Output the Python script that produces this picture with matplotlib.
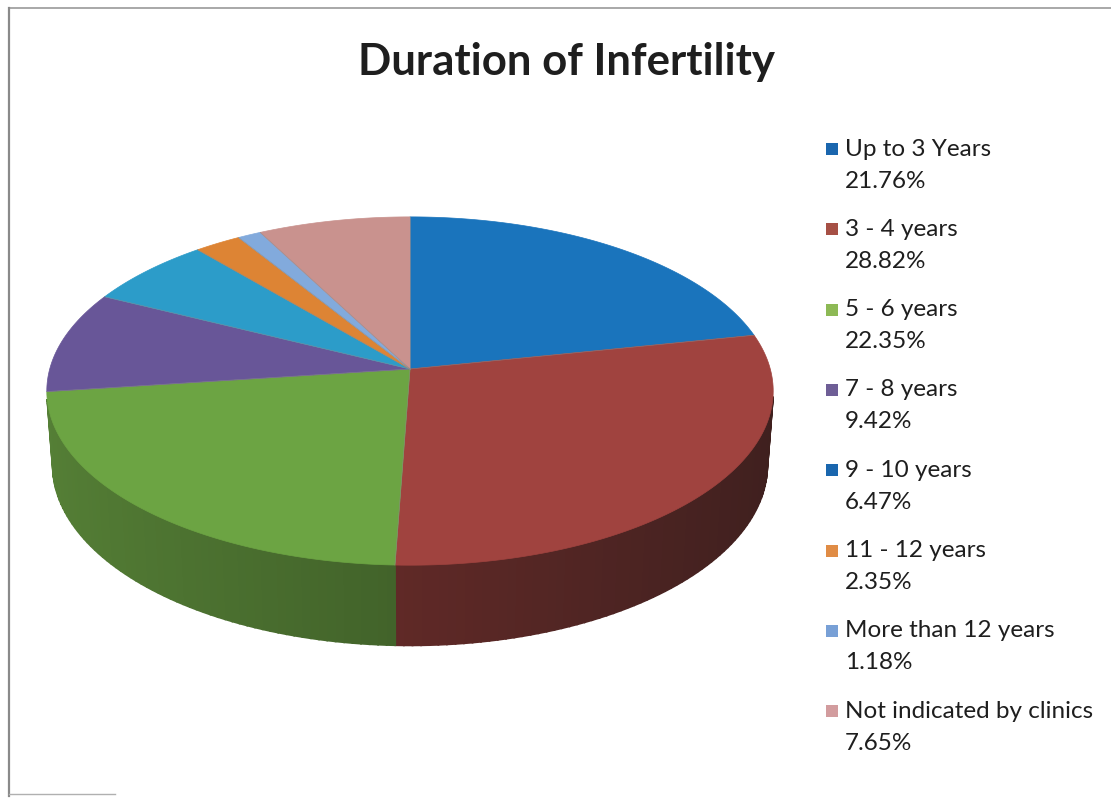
import numpy as np
import matplotlib.pyplot as plt
from matplotlib.patches import Polygon, Rectangle
from matplotlib.colors import to_rgb

plt.rcParams['font.family'] = ['Lato', 'DejaVu Sans']

labels = ['Up to 3 Years', '3 - 4 years', '5 - 6 years', '7 - 8 years',
          '9 - 10 years', '11 - 12 years', 'More than 12 years',
          'Not indicated by clinics']
values = [21.76, 28.82, 22.35, 9.42, 6.47, 2.35, 1.18, 7.65]
colors = ['#1A74BC', '#A0433F', '#6CA443', '#685698', '#2C9CC9',
          '#DD8434', '#82AADC', '#C9928E']
legend_colors = ['#1A66AE', '#A65045', '#8DB955', '#6E5E96', '#1A66AE',
                 '#E08C45', '#78A0D6', '#D29C9E']

# perspective camera for a flat cylinder (pixel units)
cx, cy = 410, 369
F, d, elev, h = 2504, 6.95, np.radians(28.4), 0.235
se, ce = np.sin(elev), np.cos(elev)


def proj(x, y, z):
    depth = d + y * ce - z * se
    return cx + F * x / depth, cy - F * (y * se + z * ce) / depth


def shade(c, f, mix):
    r, g, b = to_rgb(c)
    lum = 0.3 * r + 0.59 * g + 0.11 * b
    return tuple(min(1, f * ((1 - mix) * v + mix * lum)) for v in (r, g, b))


fig = plt.figure(figsize=(11.11, 7.99), dpi=100)
ax = fig.add_axes([0, 0, 1, 1])
ax.set_xlim(0, 1111)
ax.set_ylim(799, 0)
ax.axis('off')

# frame
ax.plot([9, 1111], [8, 8], color='#9a9a9a', lw=1.2)
ax.plot([9, 9], [8, 796], color='#8a8a8a', lw=1.6)
ax.plot([9, 115], [794, 794], color='#b0b0b0', lw=1)

fracs = np.array(values) / sum(values)
bounds = np.concatenate([[0], np.cumsum(fracs)]) * 2 * np.pi  # clockwise from back

# outer side wall (front half only)
for i in range(len(values)):
    th = np.linspace(bounds[i], bounds[i + 1], max(4, int(300 * fracs[i])))
    for a0, a1 in zip(th[:-1], th[1:]):
        am = (a0 + a1) / 2
        nx, ny = np.sin(am), np.cos(am)
        if ny > -0.163:
            continue
        f = 0.6 - 0.17 * max(0, nx) + 0.18 * max(0, -nx)
        col = shade(colors[i], f, 0.2 * max(0, nx) + 0.03)
        pts = []
        for a in (a0, a1):
            pts.append(proj(np.sin(a), np.cos(a), 0))
        for a in (a1, a0):
            pts.append(proj(np.sin(a), np.cos(a), -h))
        ax.add_patch(Polygon(pts, closed=True, facecolor=col,
                             edgecolor=col, lw=1.3))

# top faces
for i in range(len(values)):
    th = np.linspace(bounds[i], bounds[i + 1], max(8, int(400 * fracs[i])))
    pts = [proj(0, 0, 0)] + [proj(np.sin(a), np.cos(a), 0) for a in th]
    ax.add_patch(Polygon(pts, closed=True, facecolor=colors[i],
                         edgecolor=colors[i], lw=0.5))
for a in bounds[:-1]:
    p0 = proj(0, 0, 0)
    p1 = proj(np.sin(a), np.cos(a), 0)
    ax.plot([p0[0], p1[0]], [p0[1], p1[1]], color='#8a8a8a', lw=0.5, alpha=0.6)

# title
ax.text(566, 62, 'Duration of Infertility', ha='center', va='center',
        fontsize=31.5, fontweight='bold', color='#1e1e1e')

# legend
for i, (lab, v) in enumerate(zip(labels, values)):
    y0 = 149 + i * 80.3
    ax.add_patch(Rectangle((826, y0 - 6), 12, 12, facecolor=legend_colors[i],
                           edgecolor='none'))
    ax.text(845, y0, lab, ha='left', va='center', fontsize=17.5, color='#1e1e1e')
    ax.text(845, y0 + 32, f'{v:.2f}%', ha='left', va='center', fontsize=17.5,
            color='#1e1e1e')

fig.savefig('out.png', dpi=100)
